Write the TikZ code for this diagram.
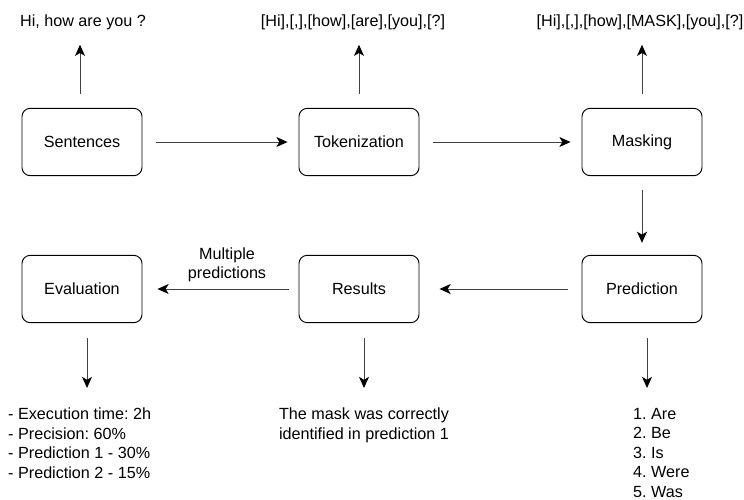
\documentclass[tikz,border=0pt]{standalone}
\usepackage{fontspec}
\setmainfont{Liberation Sans}
\usetikzlibrary{arrows.meta}
\frenchspacing

\begin{document}
\begin{tikzpicture}[x=0.03cm,y=-0.03cm]
	\tikzstyle{every node}=[font=\fontsize{13.8}{16.6}\selectfont,inner sep=0pt];
	\tikzstyle{box}=[draw,line width=0.8pt,rounded corners=7pt,minimum width=3.6cm,minimum height=2.02cm];
	\tikzstyle{arr}=[line width=0.8pt,draw=black!75,-{Stealth[length=9.5pt,width=8.5pt,inset=2.5pt,color=black]}];
	\useasboundingbox (0,0) rectangle (744,500);
	% boxes
	\path (82,142) node[box] (sent) {Sentences};
	\path (359,142) node[box] (tok) {Tokenization};
	\path (642,142) node[box] (mask) {Masking};
	\path (82,289) node[box] (eval) {Evaluation};
	\path (359,289) node[box] (res) {Results};
	\path (642,289) node[box] (pred) {Prediction};
	% texts
	\path (83,22) node (hi) {Hi, how are you ?};
	\path (353,22) node (tokt) {[Hi],[,],[how],[are],[you],[?]};
	\path (640,22) node (maskt) {[Hi],[,],[how],[MASK],[you],[?]};
	\path (227,265) node[align=center] (multi) {Multiple\\predictions};
	\path (8,408) node[anchor=north west,align=left] (evalt) {- Execution time: 2h\\- Precision: 60\%\\- Prediction 1 - 30\%\\- Prediction 2 - 15\%};
	\path (364,408) node[anchor=north,align=center] (rest) {The mask was correctly\\identified in prediction 1};
	\path (633,408) node[anchor=north west,align=left] (predt) {1. Are\\2. Be\\3. Is\\4. Were\\5. Was};
	% arrows
	\draw[arr,shorten <=0.42cm,shorten >=0.33cm] (sent) -- (tok);
	\draw[arr,shorten <=0.42cm,shorten >=0.33cm] (tok) -- (mask);
	\draw[arr,shorten <=0.42cm,shorten >=0.36cm] (mask) -- (pred);
	\draw[arr,shorten <=0.4cm,shorten >=0.6cm] (pred) -- (res);
	\draw[arr,shorten <=0.3cm,shorten >=0.45cm] (res) -- (eval);
	\draw[arr,shorten <=0.42cm,shorten >=0.45cm] ([xshift=-0.06cm]sent.north) -- ([xshift=-0.06cm]sent.north |- hi.south);
	\draw[arr,shorten <=0.42cm,shorten >=0.45cm] (tok.north) -- (tok.north |- tokt.south);
	\draw[arr,shorten <=0.42cm,shorten >=0.45cm] (mask.north) -- (mask.north |- maskt.south);
	\draw[arr,shorten <=0.45cm,shorten >=0.6cm] ([xshift=0.15cm]eval.south) -- ([xshift=0.15cm]eval.south |- evalt.north);
	\draw[arr,shorten <=0.45cm,shorten >=0.6cm] ([xshift=0.15cm]res.south) -- ([xshift=0.15cm]res.south |- rest.north);
	\draw[arr,shorten <=0.45cm,shorten >=0.6cm] ([xshift=0.15cm]pred.south) -- ([xshift=0.15cm]pred.south |- predt.north);
\end{tikzpicture}
\end{document}
